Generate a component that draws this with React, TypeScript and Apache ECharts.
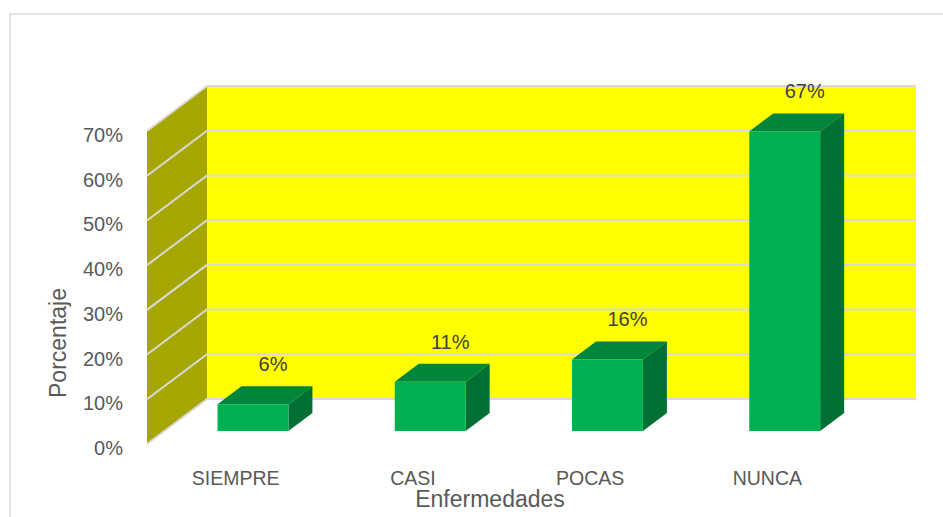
import React, { useEffect, useRef } from "react";
import * as echarts from "echarts";

const categories = ["SIEMPRE", "CASI", "POCAS", "NUNCA"];
const values = [6, 11, 16, 67];
const yTicks = [0, 10, 20, 30, 40, 50, 60, 70];
const xTitle = "Enfermedades";
const yTitle = "Porcentaje";

const FONT = '"Liberation Sans", Arial, sans-serif';
const WALL_DX = 60;
const WALL_DY = 45;
const BAR_FRONT = 13 / 45;
const BAR_BACK = 31 / 45;

export default function App() {
  const ref = useRef<HTMLDivElement>(null);

  useEffect(() => {
    if (!ref.current) return;
    const chart = echarts.init(ref.current, null, { renderer: "svg" });
    const yMax = yTicks[yTicks.length - 1];

    const option: any = {
      animation: false,
      backgroundColor: "#ffffff",
      grid: [
        { left: 147, top: 131, right: 87, bottom: 73 },
        { left: 147, top: 135, right: 87, bottom: 69 },
      ],
      xAxis: [
        {
          type: "category",
          gridIndex: 0,
          data: categories,
          axisLine: { show: false },
          axisTick: { show: false },
          splitLine: { show: false },
          axisLabel: {
            color: "#595959",
            fontSize: 19.5,
            fontFamily: FONT,
            lineHeight: 17,
            margin: 25,
          },
        },
        {
          type: "category",
          gridIndex: 1,
          data: categories,
          show: false,
        },
      ],
      yAxis: [
        {
          type: "value",
          gridIndex: 0,
          min: 0,
          max: yMax,
          interval: 10,
          axisLine: { show: false },
          axisTick: { show: false },
          splitLine: { show: false },
          axisLabel: { show: false },
        },
        {
          type: "value",
          gridIndex: 1,
          min: 0,
          max: yMax,
          interval: 10,
          axisLine: { show: false },
          axisTick: { show: false },
          splitLine: { show: false },
          axisLabel: {
            color: "#595959",
            fontSize: 20,
            fontFamily: FONT,
            margin: 24,
            formatter: "{value}%",
          },
        },
      ],
      graphic: [
        {
          type: "rect",
          z: -10,
          shape: { x: 10, y: 14, width: 1000, height: 600 },
          style: { fill: "none", stroke: "#D9D9D9", lineWidth: 1.5 },
        },
        {
          type: "text",
          x: 490,
          y: 499,
          style: {
            text: xTitle,
            fill: "#595959",
            fontSize: 23,
            lineHeight: 22,
            fontFamily: FONT,
            align: "center",
            verticalAlign: "middle",
          },
        },
        {
          type: "text",
          x: 58,
          y: 343,
          rotation: Math.PI / 2,
          style: {
            text: yTitle,
            fill: "#595959",
            fontSize: 23,
            fontFamily: FONT,
            align: "center",
            verticalAlign: "middle",
          },
        },
      ],
      series: [
        {
          type: "custom",
          name: "walls",
          silent: true,
          data: [[0, yMax]],
          renderItem: (params: any) => {
            const cs = params.coordSys;
            const x = cs.x, y = cs.y, w = cs.width, h = cs.height;
            return {
              type: "group",
              children: [
                {
                  type: "rect",
                  shape: { x: x + WALL_DX, y: y - WALL_DY, width: w, height: h },
                  style: { fill: "#FFFF00" },
                },
                {
                  type: "polygon",
                  shape: {
                    points: [
                      [x, y + h],
                      [x, y],
                      [x + WALL_DX, y - WALL_DY],
                      [x + WALL_DX, y + h - WALL_DY],
                    ],
                  },
                  style: { fill: "#A6A600" },
                },
              ],
            };
          },
        },
        {
          type: "custom",
          name: "grid",
          silent: true,
          data: yTicks.map((t) => [0, t]),
          renderItem: (params: any, api: any) => {
            const cs = params.coordSys;
            const x = cs.x, w = cs.width;
            const yv = api.coord([0, api.value(1)])[1];
            return {
              type: "polyline",
              shape: {
                points: [
                  [x, yv],
                  [x + WALL_DX, yv - WALL_DY],
                  [x + WALL_DX + w, yv - WALL_DY],
                ],
              },
              style: { fill: "none", stroke: "#D9D9D9", lineWidth: 2 },
            };
          },
        },
        {
          type: "custom",
          name: "Porcentaje",
          data: values.map((v, i) => [i, v]),
          renderItem: (params: any, api: any) => {
            const i = api.value(0);
            const v = api.value(1);
            const top = api.coord([i, v]);
            const base = api.coord([i, 0]);
            const bw = api.size([1, 0])[0] * 0.4;
            const fx = WALL_DX * BAR_FRONT, fy = WALL_DY * BAR_FRONT;
            const dx = WALL_DX * (BAR_BACK - BAR_FRONT);
            const dy = WALL_DY * (BAR_BACK - BAR_FRONT);
            const x0 = top[0] - bw / 2 + fx;
            const x1 = x0 + bw;
            const yT = top[1] - fy;
            const yB = base[1] - fy;
            return {
              type: "group",
              children: [
                {
                  type: "polygon",
                  shape: { points: [[x1, yT], [x1 + dx, yT - dy], [x1 + dx, yB - dy], [x1, yB]] },
                  style: { fill: "#007034" },
                },
                {
                  type: "polygon",
                  shape: { points: [[x0, yT], [x1, yT], [x1 + dx, yT - dy], [x0 + dx, yT - dy]] },
                  style: { fill: "#00853D" },
                },
                {
                  type: "rect",
                  shape: { x: x0, y: yT, width: bw, height: yB - yT },
                  style: { fill: "#00B050" },
                },
                {
                  type: "text",
                  x: (x0 + x1) / 2 + dx / 2 + 8,
                  y: yT - dy - 22,
                  style: {
                    text: `${v}%`,
                    fill: "#404040",
                    fontSize: 20,
                    fontFamily: FONT,
                    align: "center",
                    verticalAlign: "middle",
                  },
                },
              ],
            };
          },
        },
      ],
    };

    chart.setOption(option);
    return () => chart.dispose();
  }, []);

  return (
    <div
      ref={ref}
      style={{ position: "absolute", left: 0, top: 0, width: 943, height: 517 }}
    />
  );
}
